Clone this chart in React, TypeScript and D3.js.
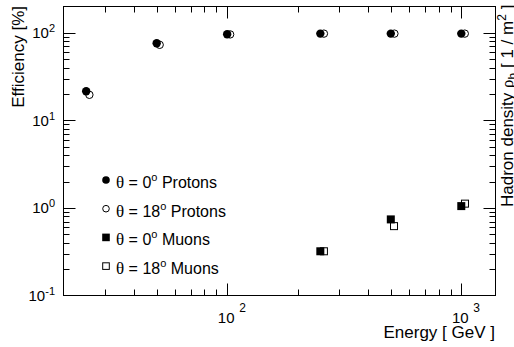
import React from "react";
import * as d3 from "d3";

const energyProtons0 = [25, 50, 100, 250, 500, 1000];
const energyProtons18 = [25.8, 51.5, 103, 259, 518, 1035];
const effProtons0 = [21.5, 76, 96.5, 98, 98, 98];
const effProtons18 = [19.6, 73, 96, 98, 98, 98];
const energyMuons0 = [250, 500, 1000];
const energyMuons18 = [259, 516, 1037];
const effMuons0 = [0.32, 0.74, 1.05];
const effMuons18 = [0.32, 0.62, 1.12];
const xTickExps = [2, 3];
const yTickExps = [-1, 0, 1, 2];
const legendAngles = ["0", "18", "0", "18"];
const legendNames = ["Protons", "Protons", "Muons", "Muons"];
const legendMarkers = ["filledCircle", "openCircle", "filledSquare", "openSquare"];

const W = 514;
const H = 347;
const L = 63.5, R = 495.5, T = 6.5, B = 295.5;
const SANS = "'Liberation Sans', Arial, sans-serif";
const SERIF = "'Liberation Serif', 'Times New Roman', serif";

const x = d3.scaleLog().domain([20, 1400]).range([L, R]);
const y = d3.scaleLog().domain([0.1, 200]).range([B, T]);

function minorTicks(scale: d3.ScaleLogarithmic<number, number>) {
  const [a, b] = scale.domain();
  const out: { v: number; major: boolean }[] = [];
  for (let e = Math.floor(Math.log10(a)); e <= Math.ceil(Math.log10(b)); e++) {
    for (let m = 1; m <= 9; m++) {
      const v = m * Math.pow(10, e);
      if (v >= a * 1.0001 && v <= b * 0.9999) out.push({ v, major: m === 1 });
    }
  }
  return out;
}

function Marker({ kind, cx, cy, s }: { kind: string; cx: number; cy: number; s: number }) {
  if (kind === "filledCircle") return <circle cx={cx} cy={cy} r={s} fill="#000" />;
  if (kind === "openCircle") return <circle cx={cx} cy={cy} r={s - 0.5} fill="#fff" stroke="#000" strokeWidth={1} />;
  if (kind === "filledSquare") return <rect x={cx - s} y={cy - s} width={2 * s} height={2 * s} fill="#000" />;
  return <rect x={cx - s + 0.5} y={cy - s + 0.5} width={2 * s - 1} height={2 * s - 1} fill="#fff" stroke="#000" strokeWidth={1} />;
}

export default function App() {
  const xt = minorTicks(x);
  const yt = minorTicks(y);
  return (
    <svg width={W} height={H} style={{ position: "absolute", left: 0, top: 0, background: "#fff" }} fontFamily={SANS}>
      <rect x={0} y={0} width={W} height={H} fill="#fff" />
      {/* ticks */}
      {xt.map((t, i) => {
        const px = Math.round(x(t.v)) + 0.5;
        const len = t.major ? 12 : 6;
        return (
          <g key={"xt" + i} stroke="#000" strokeWidth={1}>
            <line x1={px} x2={px} y1={B} y2={B - len} />
            <line x1={px} x2={px} y1={T} y2={T + len} />
          </g>
        );
      })}
      {yt.map((t, i) => {
        const py = Math.round(y(t.v)) + 0.5;
        const len = t.major ? 12 : 6;
        return (
          <g key={"yt" + i} stroke="#000" strokeWidth={1}>
            <line x1={L} x2={L + len} y1={py} y2={py} />
            <line x1={R} x2={R - len} y1={py} y2={py} />
          </g>
        );
      })}
      <rect x={L} y={T} width={R - L} height={B - T} fill="none" stroke="#000" strokeWidth={1} />

      {/* tick labels */}
      {xTickExps.map((e) => {
        const px = x(Math.pow(10, e));
        return (
          <g key={"xl" + e} fontSize={15}>
            <text x={px - 1} y={323} textAnchor="middle">10</text>
            <text x={px + 12} y={311.5} fontSize={12}>{e}</text>
          </g>
        );
      })}
      {yTickExps.map((e) => {
        const py = y(Math.pow(10, e));
        return (
          <text key={"yl" + e} x={55} y={py + 5.5} textAnchor="end" fontSize={15}>
            10<tspan dy={-6} fontSize={11}>{e}</tspan>
          </text>
        );
      })}

      {/* axis titles */}
      <text x={495} y={338} textAnchor="end" fontSize={17}>Energy [ GeV ]</text>
      <text transform="translate(24,6) rotate(-90)" textAnchor="end" fontSize={17}>Efficiency [%]</text>
      <text transform="translate(513,207) rotate(-90)" fontSize={17}>
        Hadron density <tspan fontFamily={SERIF}>ρ</tspan>
        <tspan dy={4} fontSize={12}>h</tspan>
        <tspan dy={-4}> [ 1 / m</tspan>
        <tspan dy={-7} fontSize={12}>2</tspan>
        <tspan dy={7}> ]</tspan>
      </text>

      {/* data */}
      {energyProtons18.map((e, i) => (
        <Marker key={"p18" + i} kind="openCircle" cx={x(e)} cy={y(effProtons18[i])} s={4.2} />
      ))}
      {energyProtons0.map((e, i) => (
        <Marker key={"p0" + i} kind="filledCircle" cx={x(e)} cy={y(effProtons0[i])} s={4.2} />
      ))}
      {energyMuons18.map((e, i) => (
        <Marker key={"m18" + i} kind="openSquare" cx={x(e)} cy={y(effMuons18[i])} s={4} />
      ))}
      {energyMuons0.map((e, i) => (
        <Marker key={"m0" + i} kind="filledSquare" cx={x(e)} cy={y(effMuons0[i])} s={4} />
      ))}

      {/* legend */}
      {legendNames.map((n, i) => {
        const by = 188 + i * 28.7;
        return (
          <g key={"lg" + i}>
            <Marker kind={legendMarkers[i]} cx={106} cy={by - 8} s={3.8} />
            <text x={116} y={by} fontSize={16}>
              <tspan fontFamily={SERIF} fontSize={17}>θ</tspan> = {legendAngles[i]}
              <tspan dy={-7} fontSize={11}>o</tspan>
              <tspan dy={7}> {n}</tspan>
            </text>
          </g>
        );
      })}
    </svg>
  );
}
